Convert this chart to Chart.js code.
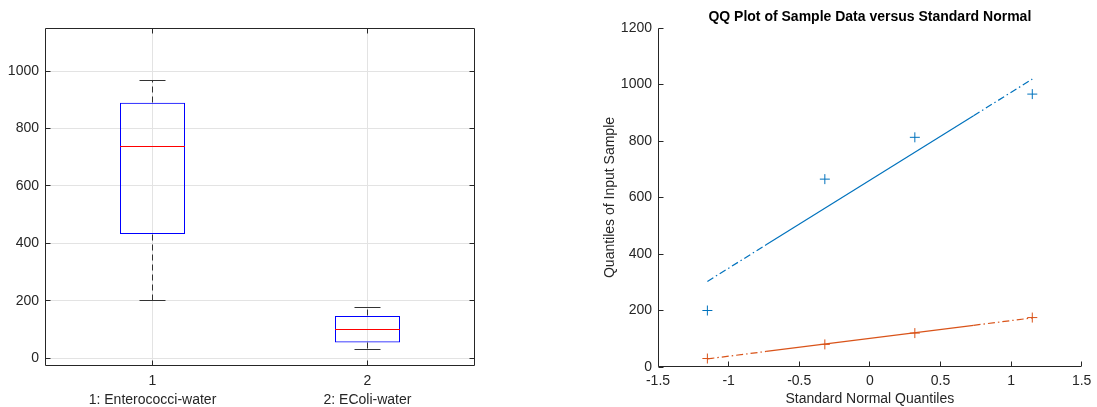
<!DOCTYPE html>
<html>
<head>
<meta charset="utf-8">
<script src="https://cdn.jsdelivr.net/npm/chart.js@4.4.0/dist/chart.umd.min.js"></script>
<style>
html, body { margin: 0; padding: 0; background: #fff; }
#wrap { position: relative; width: 1097px; height: 407px; overflow: hidden; }
#box-canvas { position: absolute; left: 0; top: 0; }
#qq-canvas { position: absolute; left: 540px; top: 0; }
</style>
</head>
<body>
<div id="wrap">
  <canvas id="box-canvas" width="540" height="407"></canvas>
  <canvas id="qq-canvas" width="557" height="407"></canvas>
</div>
<script>
// box plot data
const groups = ['1', '2'];
const groupNames = ['1: Enterococci-water', '2: EColi-water'];
const boxQ1 = [432.5, 55];
const boxQ3 = [889.5, 147.5];
const boxMedian = [739, 100];
const whiskerLow = [200, 30];
const whiskerHigh = [966, 175];
const boxYTicks = [0, 200, 400, 600, 800, 1000];

// qq plot data
const normalQuantiles = [-1.1503, -0.3186, 0.3186, 1.1503];
const enteroSorted = [200, 665, 813, 966];
const ecoliSorted = [30, 80, 120, 175];
const fitX = [-1.1503, -0.7345, 0.7345, 1.1503];
const enteroFit = [303, 432.5, 889.5, 1019];
const ecoliFit = [28.8, 55, 147.5, 173.7];
const qqXTicks = [-1.5, -1, -0.5, 0, 0.5, 1, 1.5];
const qqYTicks = [0, 200, 400, 600, 800, 1000, 1200];

const axisColor = '#262626';
const gridColor = '#e3e3e3';
const fontFamily = "'Liberation Sans', Arial, sans-serif";
const tickFont = { family: fontFamily, size: 14 };

// snap to the middle of a pixel, same way chart.js does for 1px lines
function crisp(v) {
    return Math.round(v - 0.5) + 0.5;
}

// MATLAB style ticks pointing into the plot, plus axis lines
function axesPlugin(fullBox) {
    return {
        id: 'matlabAxes',
        afterDraw(chart) {
            const { ctx, chartArea: a, scales } = chart;
            const len = 5;
            const L = a.left + 0.5, R = a.right - 0.5, T = a.top + 0.5, B = a.bottom - 0.5;
            ctx.save();
            ctx.strokeStyle = axisColor;
            ctx.lineWidth = 1;
            ctx.beginPath();
            ctx.moveTo(L, T);
            ctx.lineTo(L, B);
            ctx.lineTo(R, B);
            if (fullBox) {
                ctx.lineTo(R, T);
                ctx.lineTo(L, T);
            }
            scales.x.ticks.forEach((t, i) => {
                const px = crisp(scales.x.getPixelForTick(i));
                ctx.moveTo(px, B);
                ctx.lineTo(px, B - len);
                if (fullBox) {
                    ctx.moveTo(px, T);
                    ctx.lineTo(px, T + len);
                }
            });
            scales.y.ticks.forEach((t, i) => {
                const py = crisp(scales.y.getPixelForTick(i));
                ctx.moveTo(L, py);
                ctx.lineTo(L + len, py);
                if (fullBox) {
                    ctx.moveTo(R, py);
                    ctx.lineTo(R - len, py);
                }
            });
            ctx.stroke();
            ctx.restore();
        }
    };
}

// medians and whiskers drawn on top of the floating bars
const boxExtras = {
    id: 'boxExtras',
    afterDatasetsDraw(chart) {
        const { ctx, scales } = chart;
        const meta = chart.getDatasetMeta(0);
        const capHalf = 13;
        ctx.save();
        ctx.lineWidth = 1;
        groups.forEach((g, i) => {
            const x = crisp(scales.x.getPixelForValue(i));
            const bar = meta.data[i];
            const left = bar.x - bar.width / 2;
            const right = bar.x + bar.width / 2;
            const yQ1 = crisp(scales.y.getPixelForValue(boxQ1[i]));
            const yQ3 = crisp(scales.y.getPixelForValue(boxQ3[i]));
            const yLo = crisp(scales.y.getPixelForValue(whiskerLow[i]));
            const yHi = crisp(scales.y.getPixelForValue(whiskerHigh[i]));
            const yMed = crisp(scales.y.getPixelForValue(boxMedian[i]));

            ctx.strokeStyle = '#333333';
            ctx.setLineDash([6, 4]);
            ctx.beginPath();
            ctx.moveTo(x, yQ3);
            ctx.lineTo(x, yHi);
            ctx.moveTo(x, yQ1);
            ctx.lineTo(x, yLo);
            ctx.stroke();

            ctx.setLineDash([]);
            ctx.beginPath();
            ctx.moveTo(x - capHalf, yHi);
            ctx.lineTo(x + capHalf, yHi);
            ctx.moveTo(x - capHalf, yLo);
            ctx.lineTo(x + capHalf, yLo);
            ctx.stroke();

            ctx.strokeStyle = '#ff0000';
            ctx.beginPath();
            ctx.moveTo(left, yMed);
            ctx.lineTo(right, yMed);
            ctx.stroke();
        });
        ctx.restore();
    }
};

new Chart(document.getElementById('box-canvas'), {
    type: 'bar',
    data: {
        labels: groups.map((g, i) => [g, groupNames[i]]),
        datasets: [{
            data: groups.map((g, i) => [boxQ1[i], boxQ3[i]]),
            backgroundColor: 'rgba(0,0,0,0)',
            borderColor: '#0000ff',
            borderWidth: 1,
            borderSkipped: false,
            barPercentage: 65 / 215,
            categoryPercentage: 1
        }]
    },
    options: {
        responsive: false,
        animation: false,
        layout: { padding: { top: 28, right: 65, left: 0, bottom: 0 } },
        plugins: { legend: { display: false }, tooltip: { enabled: false } },
        scales: {
            x: {
                offset: true,
                grid: { color: gridColor, offset: false, drawTicks: false },
                border: { display: false },
                ticks: {
                    color: axisColor,
                    padding: 5.5,
                    font: { family: fontFamily, size: 14, lineHeight: 19 / 14 },
                    maxRotation: 0
                },
                afterFit(scale) { scale.height = 41; }
            },
            y: {
                min: -27,
                max: 1150,
                grid: { color: gridColor, drawTicks: false },
                border: { display: false },
                ticks: { color: axisColor, padding: 6, font: tickFont, callback: v => String(v) },
                afterBuildTicks(scale) { scale.ticks = boxYTicks.map(v => ({ value: v })); },
                afterFit(scale) { scale.width = 45; }
            }
        }
    },
    plugins: [boxExtras, axesPlugin(true)]
});

const blue = '#0072bd';
const orange = '#d95319';

function fitSegmentDash(ctx) {
    return ctx.p0DataIndex === 1 ? undefined : [7, 3, 1.5, 3];
}

new Chart(document.getElementById('qq-canvas'), {
    type: 'scatter',
    data: {
        datasets: [{
            data: normalQuantiles.map((x, i) => ({ x: x, y: enteroSorted[i] })),
            pointStyle: 'cross',
            pointRadius: 5,
            borderColor: blue,
            borderWidth: 1
        }, {
            data: normalQuantiles.map((x, i) => ({ x: x, y: ecoliSorted[i] })),
            pointStyle: 'cross',
            pointRadius: 5,
            borderColor: orange,
            borderWidth: 1
        }, {
            type: 'line',
            data: fitX.map((x, i) => ({ x: x, y: enteroFit[i] })),
            borderColor: blue,
            borderWidth: 1.2,
            pointRadius: 0,
            fill: false,
            segment: { borderDash: fitSegmentDash }
        }, {
            type: 'line',
            data: fitX.map((x, i) => ({ x: x, y: ecoliFit[i] })),
            borderColor: orange,
            borderWidth: 1.2,
            pointRadius: 0,
            fill: false,
            segment: { borderDash: fitSegmentDash }
        }]
    },
    options: {
        responsive: false,
        animation: false,
        layout: { padding: { top: 0, right: 9, left: 0, bottom: 0 } },
        plugins: {
            legend: { display: false },
            tooltip: { enabled: false },
            title: {
                display: true,
                fullSize: false,
                text: 'QQ Plot of Sample Data versus Standard Normal',
                color: '#000',
                font: { family: fontFamily, size: 14, weight: 'bold' },
                padding: { top: 8.6, bottom: 2.6 }
            }
        },
        scales: {
            x: {
                type: 'linear',
                min: -1.5,
                max: 1.5,
                grid: { display: false, drawTicks: false },
                border: { display: false },
                ticks: { color: axisColor, padding: 5.6, font: tickFont, callback: v => String(v) },
                afterBuildTicks(scale) { scale.ticks = qqXTicks.map(v => ({ value: v })); },
                title: {
                    display: true,
                    text: 'Standard Normal Quantiles',
                    color: axisColor,
                    font: tickFont,
                    padding: { top: 0, bottom: -1 }
                },
                afterFit(scale) { scale.height = 40; }
            },
            y: {
                min: 0,
                max: 1200,
                grid: { display: false, drawTicks: false },
                border: { display: false },
                ticks: { color: axisColor, padding: 6, font: tickFont, callback: v => String(v) },
                afterBuildTicks(scale) { scale.ticks = qqYTicks.map(v => ({ value: v })); },
                title: {
                    display: true,
                    text: 'Quantiles of Input Sample',
                    color: axisColor,
                    font: tickFont,
                    padding: { top: 61.6, bottom: 0 }
                },
                afterFit(scale) { scale.width = 118; }
            }
        }
    },
    plugins: [axesPlugin(false)]
});
</script>
</body>
</html>
